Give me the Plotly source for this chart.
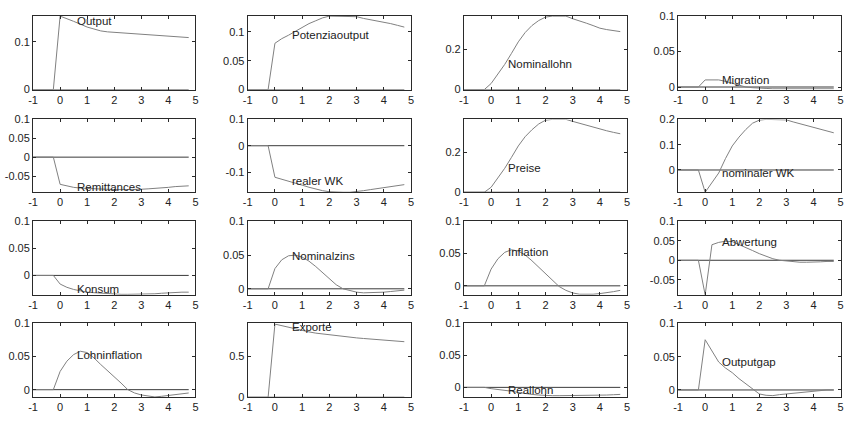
import plotly.graph_objects as go

# time axis (years, quarterly steps)
t = [-1.0, -0.75, -0.5, -0.25, 0.0, 0.25, 0.5, 0.75, 1.0, 1.25, 1.5, 1.75, 2.0, 2.25,
     2.5, 2.75, 3.0, 3.25, 3.5, 3.75, 4.0, 4.25, 4.5, 4.75]

x_tickvals = [-1, 0, 1, 2, 3, 4, 5]
x_ticktext = ["-1", "0", "1", "2", "3", "4", "5"]

pre = [0.0, 0.0, 0.0, 0.0]

output = pre + [0.154, 0.149, 0.143, 0.137, 0.131, 0.127, 0.123, 0.121, 0.120, 0.119,
                0.117, 0.116, 0.1155, 0.115, 0.114, 0.113, 0.112, 0.111, 0.110, 0.109]
potenziaoutput = pre + [0.080, 0.088, 0.094, 0.101, 0.108, 0.114, 0.119, 0.124, 0.127, 0.127,
                        0.127, 0.127, 0.126, 0.123, 0.121, 0.119, 0.117, 0.114, 0.111, 0.108]
nominallohn = pre + [0.030, 0.075, 0.125, 0.180, 0.237, 0.283, 0.318, 0.343, 0.360, 0.365,
                     0.365, 0.365, 0.352, 0.342, 0.330, 0.318, 0.305, 0.298, 0.293, 0.288]
migration = pre + [0.010, 0.0105, 0.010, 0.008, 0.005, 0.002, 0.0, -0.001, -0.002, -0.002,
                   -0.0025, -0.0025, -0.0025, -0.0025, -0.0025, -0.0025, -0.0025, -0.0025, -0.0025, -0.0025]
remittances = pre + [-0.072, -0.077, -0.080, -0.082, -0.083, -0.084, -0.085, -0.085, -0.086, -0.086,
                     -0.086, -0.086, -0.085, -0.084, -0.083, -0.081, -0.080, -0.078, -0.077, -0.076]
realer_wk = pre + [-0.120, -0.127, -0.134, -0.142, -0.150, -0.158, -0.165, -0.171, -0.175, -0.177,
                   -0.177, -0.177, -0.175, -0.171, -0.167, -0.163, -0.159, -0.155, -0.151, -0.148]
preise = pre + [0.025, 0.070, 0.120, 0.175, 0.232, 0.278, 0.313, 0.342, 0.361, 0.365,
                0.365, 0.365, 0.355, 0.345, 0.335, 0.325, 0.315, 0.308, 0.300, 0.293]
nominaler_wk = pre + [-0.088, -0.050, -0.012, 0.045, 0.095, 0.130, 0.160, 0.185, 0.197, 0.200,
                      0.200, 0.200, 0.198, 0.190, 0.183, 0.175, 0.167, 0.160, 0.153, 0.147]
konsum = pre + [-0.016, -0.022, -0.026, -0.029, -0.031, -0.032, -0.033, -0.034, -0.035, -0.035,
                -0.035, -0.035, -0.035, -0.035, -0.034, -0.033, -0.032, -0.032, -0.031, -0.031]
nominalzins = pre + [0.030, 0.043, 0.049, 0.050, 0.047, 0.041, 0.033, 0.024, 0.014, 0.006,
                     0.0, -0.003, -0.005, -0.006, -0.006, -0.006, -0.005, -0.004, -0.003, -0.002]
inflation = pre + [0.026, 0.042, 0.052, 0.056, 0.054, 0.048, 0.039, 0.029, 0.019, 0.009,
                   -0.001, -0.007, -0.011, -0.013, -0.0135, -0.013, -0.012, -0.011, -0.009, -0.007]
abwertung = pre + [-0.089, 0.040, 0.046, 0.049, 0.048, 0.041, 0.033, 0.025, 0.017, 0.010,
                   0.004, 0.0, -0.002, -0.004, -0.005, -0.005, -0.005, -0.004, -0.003, -0.003]
lohninflation = pre + [0.0275, 0.043, 0.053, 0.058, 0.056, 0.048, 0.038, 0.029, 0.020, 0.010,
                       0.0, -0.005, -0.008, -0.010, -0.011, -0.010, -0.009, -0.008, -0.006, -0.005]
exporte = pre + [0.890, 0.870, 0.850, 0.830, 0.810, 0.795, 0.780, 0.770, 0.755, 0.745,
                 0.738, 0.730, 0.722, 0.715, 0.710, 0.705, 0.698, 0.690, 0.683, 0.676]
reallohn = pre + [-0.002, -0.003, -0.004, -0.006, -0.008, -0.010, -0.011, -0.012, -0.013, -0.013,
                  -0.013, -0.013, -0.013, -0.013, -0.013, -0.013, -0.0125, -0.012, -0.0115, -0.011]
outputgap = pre + [0.0755, 0.058, 0.042, 0.033, 0.026, 0.017, 0.009, 0.001, -0.006, -0.008,
                   -0.0085, -0.007, -0.006, -0.0045, -0.0035, -0.002, -0.001, 0.0, 0.0, 0.0]

names = ["Output", "Potenziaoutput", "Nominallohn", "Migration",
         "Remittances", "realer WK", "Preise", "nominaler WK",
         "Konsum", "Nominalzins", "Inflation", "Abwertung",
         "Lohninflation", "Exporte", "Reallohn", "Outputgap"]
series = [output, potenziaoutput, nominallohn, migration,
          remittances, realer_wk, preise, nominaler_wk,
          konsum, nominalzins, inflation, abwertung,
          lohninflation, exporte, reallohn, outputgap]

y_ranges = [[0, 0.154], [0, 0.127], [0, 0.365], [-0.0036, 0.1],
            [-0.093, 0.1], [-0.177, 0.1], [0, 0.365], [-0.088, 0.2],
            [-0.036, 0.1], [-0.009, 0.1], [-0.014, 0.1], [-0.089, 0.1],
            [-0.0115, 0.1], [0, 0.898], [-0.0155, 0.1], [-0.011, 0.1]]
y_ticks = [[0, 0.1], [0, 0.05, 0.1], [0, 0.2], [0, 0.05, 0.1],
           [-0.05, 0, 0.05, 0.1], [-0.1, 0, 0.1], [0, 0.2], [0, 0.1, 0.2],
           [0, 0.05, 0.1], [0, 0.05, 0.1], [0, 0.05, 0.1], [-0.05, 0, 0.05, 0.1],
           [0, 0.05, 0.1], [0, 0.5], [0, 0.05, 0.1], [0, 0.05, 0.1]]

W, H = 848, 423
col_px = [(28.3, 192.3), (245.0, 410.0), (463.3, 628.0), (679.5, 843.5)]
row_px = [(10.4, 86.0), (116.7, 191.7), (221.7, 297.3), (326.7, 402.7)]

FONT = "Liberation Sans, Arial, sans-serif"
AXC = "#2a2a2a"

def fmt(v):
    return ("%g" % v)

fig = go.Figure()
label_idx = t.index(0.5)
for i, (nm, ys) in enumerate(zip(names, series)):
    r, c = divmod(i, 4)
    k = i + 1
    xa = "x" if k == 1 else "x%d" % k
    ya = "y" if k == 1 else "y%d" % k
    # zero line
    fig.add_trace(go.Scatter(x=t, y=[0.0] * len(t), mode="lines",
                             line=dict(color="#3a3a3a", width=1),
                             xaxis=xa, yaxis=ya, showlegend=False, hoverinfo="skip"))
    # response
    fig.add_trace(go.Scatter(x=t, y=ys, mode="lines",
                             line=dict(color="#808080", width=1),
                             xaxis=xa, yaxis=ya, showlegend=False, name=nm))
    x0, x1 = col_px[c]
    yt, yb = row_px[r]
    xkey = "xaxis" if k == 1 else "xaxis%d" % k
    ykey = "yaxis" if k == 1 else "yaxis%d" % k
    fig.layout[xkey] = dict(domain=[x0 / W, x1 / W], anchor=ya, range=[-1, 5],
                            tickvals=x_tickvals, ticktext=x_ticktext,
                            ticks="inside", ticklen=3, tickcolor=AXC, tickwidth=1,
                            showline=True, linecolor=AXC, linewidth=1, mirror="ticks",
                            showgrid=False, zeroline=False,
                            tickfont=dict(family=FONT, size=11, color="#222"))
    fig.layout[ykey] = dict(domain=[1 - yb / H, 1 - yt / H], anchor=xa, range=y_ranges[i],
                            tickvals=y_ticks[i], ticktext=[fmt(v) for v in y_ticks[i]],
                            ticks="inside", ticklen=3, tickcolor=AXC, tickwidth=1,
                            showline=True, linecolor=AXC, linewidth=1, mirror="ticks",
                            showgrid=False, zeroline=False,
                            tickfont=dict(family=FONT, size=11, color="#222"))
    fig.add_annotation(x=t[label_idx], y=ys[label_idx], xref=xa, yref=ya,
                       text=nm, showarrow=False, xanchor="left", yanchor="middle",
                       xshift=1, font=dict(family=FONT, size=11.5, color="#222"))

fig.update_layout(width=W, height=H, margin=dict(l=0, r=0, t=0, b=0),
                  paper_bgcolor="white", plot_bgcolor="white")
fig.write_html("out.html", config={"displayModeBar": False},
               post_script="document.body.style.margin='0';document.body.style.overflow='hidden';")
